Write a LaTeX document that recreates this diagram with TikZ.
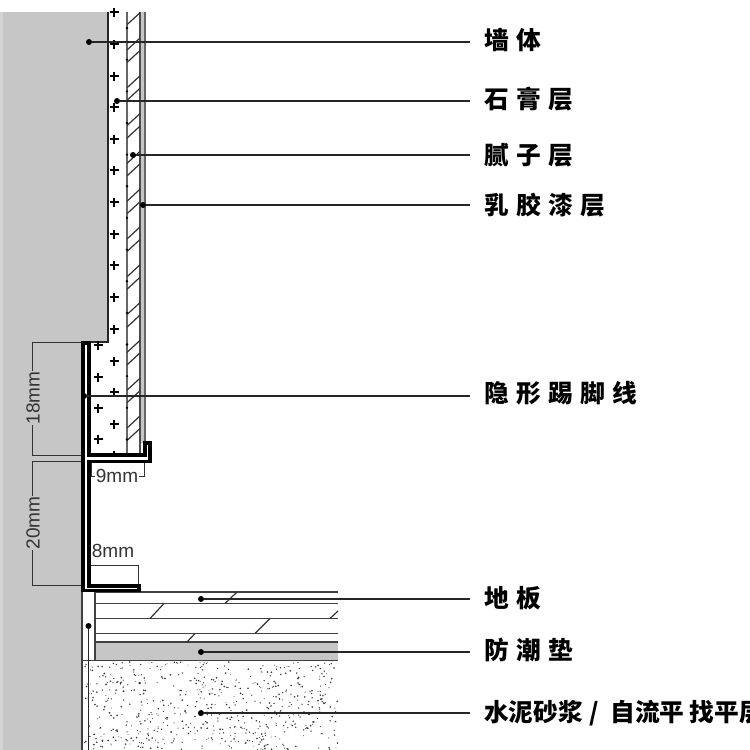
\documentclass[tikz,border=0pt]{standalone}
\usepackage{fontspec}
\newfontfamily\cjk{Noto Sans CJK SC}
\newfontfamily\dimfont{Liberation Sans}
\newcommand{\gp}{\hspace{7.5pt}}
\definecolor{wallgrey}{HTML}{C6C6C6}
\definecolor{linegrey}{HTML}{666666}
\tikzset{
  lab/.style={anchor=west,inner sep=0pt,font=\cjk\bfseries\fontsize{24.7}{25}\selectfont,text=black},
  leaderline/.style={line width=1.2pt,draw=black!85},
  pin/.style={circle,fill=black,inner sep=0pt,minimum size=6pt},
  dimline/.style={line width=1pt,draw=black!80},
  dimtext/.style={inner sep=1pt,font=\dimfont\fontsize{19}{19}\selectfont,text=black!80},
  plusmark/.style={line width=1.8pt,draw=black},
  floorline/.style={line width=1.1pt,draw=black!75},
  profile/.style={line width=3.6pt,draw=black,miter limit=10},
}
\begin{document}
\begin{tikzpicture}[x=1pt,y=-1pt]
\useasboundingbox (0,0) rectangle (750,750);
\clip (0,0) rectangle (750,750);
% wall
\fill[wallgrey] (0,12) -- (108,12) -- (108,342) -- (82,342) -- (82,750) -- (0,750) -- cycle;
\fill[wallgrey!75] (0,12) rectangle (3,750);
% finish layers
\fill[wallgrey] (140,12) rectangle (145,443);
\draw[line width=1.2pt,draw=black!85] (108,12) -- (108,342) -- (88,342);
\draw[line width=1.8pt,draw=linegrey] (127,12) -- (127,455);
\draw[line width=1.4pt,draw=black!70] (140,12) -- (140,455);
\draw[line width=1.2pt,draw=linegrey] (145,12) -- (145,443);
% hatching of putty layer
\begin{scope}
\clip (127,12) rectangle (140,455);
\foreach \k in {-1,...,10}{
  \draw[line width=1.2pt,draw=black!80] (127,{50+37.8*\k}) -- (140,{38+37.8*\k});
  \draw[line width=1.2pt,draw=black!80] (127,{62.5+37.8*\k}) -- (140,{50.5+37.8*\k});
}
\end{scope}
\foreach \k in {0,...,13}{
  \fill[black] (127,{28+31.65*\k}) circle (1.3pt);
}
% plus marks
\foreach \p in {12,44,76,107,139,170,202,234,265,297,329,361,392,424}{
  \draw[plusmark] (109.5,\p) -- (118.5,\p) (114,{\p-4.5}) -- (114,{\p+4.5});
}
\foreach \p in {345,377,408,439}{
  \draw[plusmark] (93.5,\p) -- (102.5,\p) (98,{\p-4.5}) -- (98,{\p+4.5});
}
\draw[plusmark] (114,451) -- (114,455);
% floor layers
\fill[wallgrey] (95,642) rectangle (338,660.5);
\foreach \fy in {592,603.5,618.5,633.5,642,660.5}{
  \draw[floorline] (95,\fy) -- (338,\fy);
}
\draw[floorline] (82,660.5) -- (95,660.5);
\draw[floorline] (95,592) -- (95,660.5);
\draw[floorline] (82,590) -- (82,750);
\foreach \ax/\ay/\bx/\by in {225/603.5/237/592,150/618.5/164/603.5,330/618.5/338/611,255/633.5/270/618.5,187/642/195/633.5}{
  \draw[line width=1.2pt,draw=black!80] (\ax,\ay) -- (\bx,\by);
}
% screed speckle
\pgfmathsetseed{4711}
\begin{scope}
\clip (83,661.5) rectangle (338,750);
\foreach \i in {1,...,620}{
  \pgfmathsetmacro{\sx}{84+254*rnd}
  \pgfmathsetmacro{\sy}{662+88*rnd}
  \pgfmathsetmacro{\sr}{0.45+0.5*rnd}
  \fill[black!80] (\sx,\sy) circle (\sr pt);
}
\end{scope}
% dimensions
\coordinate (a1) at (82,342); \coordinate (a2) at (32,342); \coordinate (a3) at (32,455); \coordinate (a4) at (82,455);
\draw[dimline] (a1) -- (a2) -- (a3) -- (a4);
\node[dimtext,fill=wallgrey,rotate=90] (d18) at (33,398) {18mm};
\coordinate (b1) at (82,461); \coordinate (b2) at (32,461); \coordinate (b3) at (32,585); \coordinate (b4) at (82,585);
\draw[dimline] (b1) -- (b2) -- (b3) -- (b4);
\node[dimtext,fill=wallgrey,rotate=90] (d20) at (33,523) {20mm};
\coordinate (c1) at (91,461); \coordinate (c2) at (91,476); \coordinate (c3) at (144,476); \coordinate (c4) at (144,461);
\draw[dimline] (c1) -- (c2) -- (c3) -- (c4);
\node[dimtext,fill=white,inner sep=0.5pt] (d9) at (117,476) {9mm};
\coordinate (e1) at (90,565); \coordinate (e2) at (138,565); \coordinate (e3) at (138,586);
\draw[dimline] (e1) -- (e2) -- (e3);
\node[dimtext] (d8) at (113,551) {8mm};
% skirting profile
\draw[profile] (89,586) -- (89,461.5) -- (150,461.5) -- (150,443) -- (145,443) -- (145,455) -- (89,455) -- (89,343) -- (83,343) -- (83,590.5) -- (139,590.5) -- (139,586) -- cycle;
% labels
\node[lab] (l1) at (484,40) {墙\gp 体};
\node[lab] (l2) at (484,99) {石\gp 膏\gp 层};
\node[lab] (l3) at (484,155) {腻\gp 子\gp 层};
\node[lab] (l4) at (484,205) {乳\gp 胶\gp 漆\gp 层};
\node[lab] (l5) at (484,393) {隐\gp 形\gp 踢\gp 脚\gp 线};
\node[lab] (l6) at (484,598) {地\gp 板};
\node[lab] (l7) at (484,650) {防\gp 潮\gp 垫};
\node[lab] (l8) at (484,713) {水泥砂浆\hspace{7pt}/\hspace{11pt}自流平\hspace{5pt}找平层};
% leaders
\foreach \n/\px/\py in {1/89/42,2/117/101,3/133/155,4/143/205,5/84/396,6/201/599,7/201/652,8/201/713}{
  \node[pin] (p\n) at (\px,\py) {};
  \coordinate (q\n) at (470,\py);
  \draw[leaderline] (p\n) -- (q\n);
}
\node[pin] (p9) at (88.5,626) {};
\coordinate (q9) at (88.5,750);
\draw[leaderline] (p9) -- (q9);
\end{tikzpicture}
\end{document}
